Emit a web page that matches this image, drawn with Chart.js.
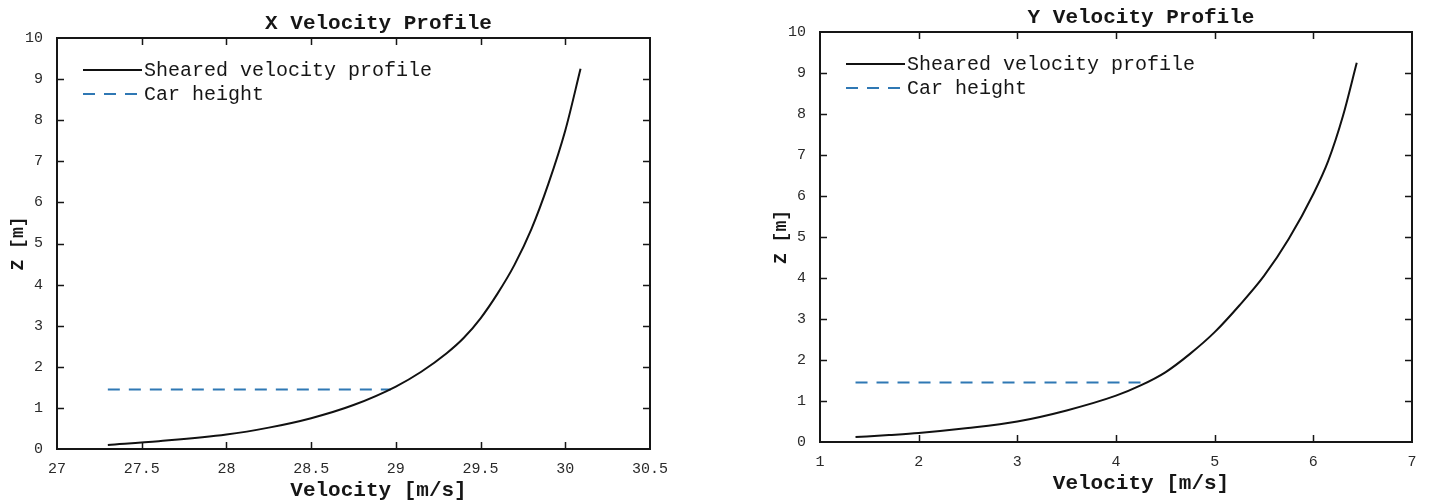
<!DOCTYPE html>
<html>
<head>
<meta charset="utf-8">
<title>Velocity Profiles</title>
<script src="https://cdn.jsdelivr.net/npm/chart.js@4.4.1/dist/chart.umd.min.js"></script>
<style>
    html, body { margin: 0; padding: 0; background: #fff; }
    body { width: 1430px; height: 501px; position: relative; overflow: hidden; }
    .panel { position: absolute; top: 0; }
    #panel-x { left: 0; }
    #panel-y { left: 715px; }
</style>
</head>
<body>
<div class="panel" id="panel-x"><canvas id="chart-x" width="710" height="501"></canvas></div>
<div class="panel" id="panel-y"><canvas id="chart-y" width="715" height="501"></canvas></div>
<script>
// ─── Data ────────────────────────────────────────────────────────────
const CAR_HEIGHT = 1.45; // m

// X velocity profile
const X_VELOCITY = [27.3, 27.6, 28.0, 28.25, 28.5, 28.75, 29.0, 29.15, 29.3, 29.4, 29.5, 29.6, 29.7, 29.8, 29.9, 30.0, 30.09];
const X_HEIGHT   = [0.1, 0.19, 0.35, 0.52, 0.75, 1.07, 1.52, 1.88, 2.33, 2.7, 3.18, 3.78, 4.48, 5.35, 6.45, 7.75, 9.25];
const X_CAR_VELOCITY = [27.3, 28.97];
const X_TICKS = [27, 27.5, 28, 28.5, 29, 29.5, 30, 30.5];

// Y velocity profile
const Y_VELOCITY = [1.36, 1.7, 2.0, 2.5, 3.0, 3.5, 4.0, 4.25, 4.5, 4.75, 5.0, 5.25, 5.5, 5.75, 6.0, 6.15, 6.3, 6.44];
const Y_HEIGHT   = [0.12, 0.17, 0.22, 0.34, 0.5, 0.77, 1.13, 1.38, 1.7, 2.15, 2.68, 3.33, 4.05, 4.95, 6.05, 6.85, 7.95, 9.25];
const Y_CAR_VELOCITY = [1.36, 4.32];
const Y_TICKS = [1, 2, 3, 4, 5, 6, 7];

// Height axis is shared
const Z_TICKS = [0, 1, 2, 3, 4, 5, 6, 7, 8, 9, 10];

const LABELS = ['Sheared velocity profile', 'Car height'];

// ─── Styling ─────────────────────────────────────────────────────────
const INK = '#161616';
const MONO = '"Liberation Mono", "DejaVu Sans Mono", monospace';
const TICK_LEN = 7;

// ─── Frame plugin: box, inward ticks, titles, legend ────────────────
const framePlugin = {
    id: 'frame',
    afterDraw(chart, args, opts) {
        const { ctx, chartArea: a, scales: { x, y } } = chart;
        ctx.save();

        // box
        ctx.strokeStyle = INK;
        ctx.lineWidth = 2;
        ctx.strokeRect(a.left, a.top, a.right - a.left, a.bottom - a.top);

        // inward tick marks on all four sides
        ctx.lineWidth = 1.5;
        ctx.beginPath();
        x.ticks.forEach(t => {
            const px = Math.round(x.getPixelForValue(t.value)) + 0.5;
            if (px < a.left + 2 || px > a.right - 2) return;
            ctx.moveTo(px, a.bottom); ctx.lineTo(px, a.bottom - TICK_LEN);
            ctx.moveTo(px, a.top); ctx.lineTo(px, a.top + TICK_LEN);
        });
        y.ticks.forEach(t => {
            const py = Math.round(y.getPixelForValue(t.value)) + 0.5;
            if (py < a.top + 2 || py > a.bottom - 2) return;
            ctx.moveTo(a.left, py); ctx.lineTo(a.left + TICK_LEN, py);
            ctx.moveTo(a.right, py); ctx.lineTo(a.right - TICK_LEN, py);
        });
        ctx.stroke();

        // title and axis labels
        const cx = (a.left + a.right) / 2 + opts.textShift;
        ctx.fillStyle = INK;
        ctx.textAlign = 'center';
        ctx.textBaseline = 'middle';
        ctx.font = `bold 21px ${MONO}`;
        ctx.fillText(opts.title, cx, a.top - 14);
        ctx.fillText(opts.xLabel, cx, a.bottom + 42);

        ctx.save();
        ctx.translate(a.left - 39, (a.top + a.bottom) / 2);
        ctx.rotate(-Math.PI / 2);
        ctx.font = `bold 18px ${MONO}`;
        ctx.fillText(opts.yLabel, 0, 0);
        ctx.restore();

        // legend, top-left inside the axes
        chart.data.datasets.forEach((ds, i) => {
            const lx = a.left + 26;
            const ly = a.top + 32 + i * 24;
            ctx.strokeStyle = ds.borderColor;
            ctx.lineWidth = ds.borderWidth;
            ctx.setLineDash(ds.borderDash || []);
            ctx.beginPath();
            ctx.moveTo(lx, ly);
            ctx.lineTo(lx + 59, ly);
            ctx.stroke();
            ctx.setLineDash([]);
            ctx.fillStyle = INK;
            ctx.textAlign = 'left';
            ctx.font = `20px ${MONO}`;
            ctx.fillText(ds.label, lx + 61, ly + 1);
        });

        ctx.restore();
    }
};

// ─── Chart factory ───────────────────────────────────────────────────
function toPoints(xs, ys) {
    return xs.map((v, i) => ({ x: v, y: ys[i] }));
}

function fixedTicks(values) {
    return scale => { scale.ticks = values.map(v => ({ value: v })); };
}

function buildChart(canvasId, spec) {
    const tickFont = { family: MONO, size: 15 };
    return new Chart(document.getElementById(canvasId), {
        type: 'scatter',
        data: {
            datasets: [
                {
                    label: LABELS[0],
                    data: toPoints(spec.velocity, spec.height),
                    showLine: true,
                    borderColor: '#111',
                    borderWidth: 2,
                    pointRadius: 0,
                    cubicInterpolationMode: 'monotone',
                },
                {
                    label: LABELS[1],
                    data: toPoints(spec.carVelocity, spec.carVelocity.map(() => CAR_HEIGHT)),
                    showLine: true,
                    borderColor: '#2f78b4',
                    borderWidth: 2,
                    borderDash: [12, 9],
                    pointRadius: 0,
                },
            ],
        },
        options: {
            responsive: false,
            animation: false,
            devicePixelRatio: 1,
            layout: { padding: spec.padding },
            plugins: {
                legend: { display: false },
                tooltip: { enabled: false },
                frame: { title: spec.title, xLabel: 'Velocity [m/s]', yLabel: 'Z [m]', textShift: 25 },
            },
            scales: {
                x: {
                    type: 'linear',
                    min: spec.xTicks[0],
                    max: spec.xTicks[spec.xTicks.length - 1],
                    grid: { display: false },
                    border: { display: false },
                    ticks: { font: tickFont, color: '#2a2a2a', padding: 3, maxRotation: 0, callback: v => String(v) },
                    afterBuildTicks: fixedTicks(spec.xTicks),
                    afterFit: s => { s.height = spec.xAxisHeight; s.paddingLeft = 0; s.paddingRight = 0; },
                },
                y: {
                    type: 'linear',
                    min: 0,
                    max: 10,
                    grid: { display: false },
                    border: { display: false },
                    ticks: { font: tickFont, color: '#2a2a2a', padding: 6, callback: v => String(v) },
                    afterBuildTicks: fixedTicks(Z_TICKS),
                    afterFit: s => { s.width = spec.yAxisWidth; s.paddingTop = 0; s.paddingBottom = 0; },
                },
            },
        },
        plugins: [framePlugin],
    });
}

// ─── Boot ────────────────────────────────────────────────────────────
buildChart('chart-x', {
    title: 'X Velocity Profile',
    velocity: X_VELOCITY,
    height: X_HEIGHT,
    carVelocity: X_CAR_VELOCITY,
    xTicks: X_TICKS,
    padding: { top: 38, right: 60, bottom: 0, left: 0 },
    yAxisWidth: 57,
    xAxisHeight: 52,
});

buildChart('chart-y', {
    title: 'Y Velocity Profile',
    velocity: Y_VELOCITY,
    height: Y_HEIGHT,
    carVelocity: Y_CAR_VELOCITY,
    xTicks: Y_TICKS,
    padding: { top: 32, right: 18, bottom: 0, left: 0 },
    yAxisWidth: 105,
    xAxisHeight: 59,
});
</script>
</body>
</html>
